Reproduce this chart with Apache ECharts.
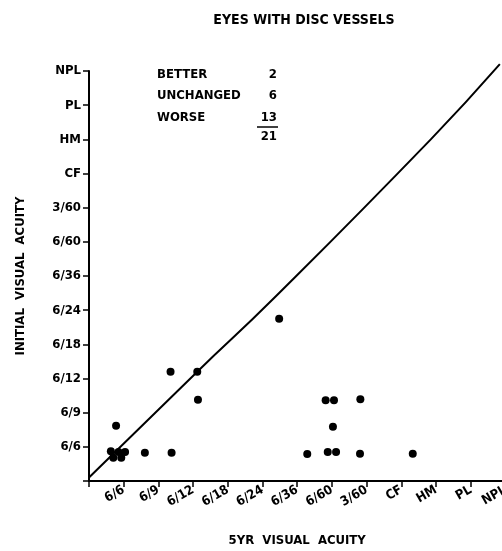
<!DOCTYPE html>
<html>
<head>
<meta charset="utf-8">
<script src="https://cdn.jsdelivr.net/npm/echarts@6/dist/echarts.min.js"></script>
<style>
  html, body { margin: 0; padding: 0; background: #fff; }
  #main { width: 502px; height: 551px; }
</style>
</head>
<body>
<div id="main"></div>
<script>
// acuity scale, index 1 = 6/6 ... 12 = NPL
const acuityLabels = ['6/6', '6/9', '6/12', '6/18', '6/24', '6/36', '6/60', '3/60', 'CF', 'HM', 'PL', 'NPL'];

// eyes: [5yr acuity, initial acuity]
const eyes = [
  [5.48, 4.75], [2.35, 3.2], [3.12, 3.2], [3.14, 2.38], [0.78, 1.62],
  [0.63, 0.87], [0.70, 0.68], [0.85, 0.85], [0.93, 0.68], [1.04, 0.85],
  [1.61, 0.83], [2.38, 0.83],
  [6.82, 2.36], [7.06, 2.36], [7.82, 2.39], [7.03, 1.59],
  [6.29, 0.79], [6.88, 0.85], [7.12, 0.85], [7.81, 0.80], [9.33, 0.80]
];

// line of no change, as drawn
const noChange = [[0, 0.1], [3.12, 3.2], [5.29, 5.31], [9.85, 10.0], [11.84, 12.2]];

const outcomeNames = ['BETTER', 'UNCHANGED', 'WORSE'];
const outcomeCounts = [2, 6, 13];
const totalEyes = 21;

const font = 'DejaVu Sans Condensed';
const chart = echarts.init(document.getElementById('main'));

function fmt(v) {
  return v >= 1 && v <= acuityLabels.length ? acuityLabels[v - 1] : '';
}

// tally in the corner
const tally = [];
outcomeNames.forEach((name, i) => {
  tally.push({
    type: 'text', left: 157, top: 68 + i * 21.5,
    style: { text: name, font: 'bold 13px ' + font, fill: '#000' }
  });
  tally.push({
    type: 'text', right: 225, top: 68 + i * 21.5,
    style: { text: String(outcomeCounts[i]), font: 'bold 13px ' + font, fill: '#000' }
  });
});
tally.push({
  type: 'line', shape: { x1: 257, y1: 127, x2: 278, y2: 127 },
  style: { stroke: '#000', lineWidth: 1.5 }
});
tally.push({
  type: 'text', right: 225, top: 130,
  style: { text: String(totalEyes), font: 'bold 13px ' + font, fill: '#000' }
});

const option = {
  backgroundColor: '#fff',
  animation: false,
  title: {
    text: 'EYES WITH DISC VESSELS',
    left: 299, top: 8, textAlign: 'center',
    textStyle: { fontFamily: font, fontWeight: 'bold', fontSize: 14, color: '#000' }
  },
  grid: { left: 89, top: 71, right: -3.4, bottom: 70, outerBoundsMode: 'none', containLabel: false },
  xAxis: {
    type: 'value', min: 0, max: 12, interval: 1,
    name: '5YR  VISUAL  ACUITY', nameLocation: 'middle', nameGap: 53,
    nameTextStyle: { fontFamily: font, fontWeight: 'bold', fontSize: 13, color: '#000' },
    splitLine: { show: false },
    axisLine: { lineStyle: { color: '#000', width: 2 } },
    axisTick: { length: 6, lineStyle: { color: '#000', width: 1.5 } },
    axisLabel: {
      formatter: fmt, rotate: 30, margin: 8,
      fontFamily: font, fontWeight: 'bold', fontSize: 13, color: '#000'
    }
  },
  yAxis: {
    type: 'value', min: 0, max: 12, interval: 1,
    name: 'INITIAL  VISUAL  ACUITY', nameLocation: 'middle', nameGap: 62, nameRotate: 90,
    nameTextStyle: { fontFamily: font, fontWeight: 'bold', fontSize: 13, color: '#000' },
    splitLine: { show: false },
    axisLine: { lineStyle: { color: '#000', width: 2 } },
    axisTick: { length: 6, lineStyle: { color: '#000', width: 1.5 } },
    axisLabel: {
      formatter: fmt, margin: 8,
      fontFamily: font, fontWeight: 'bold', fontSize: 13, color: '#000'
    }
  },
  series: [
    {
      type: 'line', data: noChange, smooth: true, clip: false, showSymbol: false,
      lineStyle: { color: '#000', width: 2 }
    },
    {
      type: 'scatter', data: eyes, symbolSize: 8,
      itemStyle: { color: '#000', opacity: 1 }
    }
  ],
  graphic: tally
};

chart.setOption(option);
</script>
</body>
</html>
